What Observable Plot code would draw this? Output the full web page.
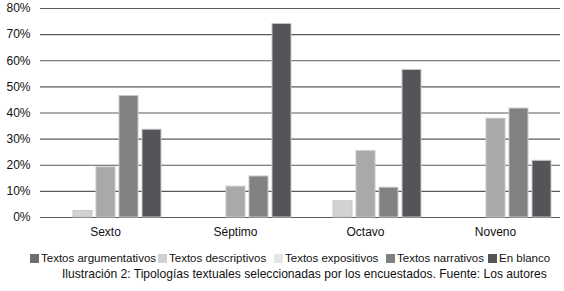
<!DOCTYPE html>
<html><head><meta charset="utf-8">
<script src="https://cdn.jsdelivr.net/npm/d3@7"></script>
<script src="https://cdn.jsdelivr.net/npm/@observablehq/plot@0.6"></script>
<style>
body{margin:0;background:#fff;font-family:"Liberation Sans",Arial,sans-serif;}
#legend{position:absolute;left:0;top:250px;width:564px;height:16px;font-size:11.5px;color:#111;}
#legend .it{position:absolute;top:0;line-height:16px;white-space:nowrap;}
#legend .sw{display:inline-block;width:9px;height:9px;vertical-align:-1px;margin-right:2px;}
#caption{position:absolute;left:62px;top:266px;font-size:12.1px;color:#111;white-space:nowrap;line-height:16px;}
</style></head>
<body>
<div id="chart"></div>
<div id="legend"></div>
<div id="caption"></div>
<script>
const grades = ["Sexto", "Séptimo", "Octavo", "Noveno"];
const series = ["Textos argumentativos", "Textos descriptivos", "Textos expositivos", "Textos narrativos", "En blanco"];
const argumentativos = [0, 0, 0, 0];
const descriptivos = [2.5, 0, 6.2, 0];
const expositivos = [19.2, 11.8, 25.4, 37.8];
const narrativos = [46.5, 15.7, 11.4, 41.7];
const enBlanco = [33.6, 74.1, 56.5, 21.7];
const barColors = ["#6e6e6e", "#d2d2d2", "#a9a9a9", "#818181", "#555459"];
const legendColors = ["#6e6e6e", "#d0d0d0", "#e6e6e6", "#808080", "#555555"];
const legendX = [30, 158, 274, 386, 488];
const yTicks = [0, 10, 20, 30, 40, 50, 60, 70, 80];
const caption = "Ilustración 2: Tipologías textuales seleccionadas por los encuestados. Fuente: Los autores";

const valuesBySeries = [argumentativos, descriptivos, expositivos, narrativos, enBlanco];
const data = [];
grades.forEach((g, i) => series.forEach((s, j) => data.push({grade: g, serie: s, value: valuesBySeries[j][i]})));

const chart = Plot.plot({
  width: 564, height: 245,
  marginLeft: 38, marginRight: 3, marginTop: 8, marginBottom: 28,
  style: {fontFamily: "'Liberation Sans', Arial, sans-serif", fontSize: "12px", color: "#111"},
  fx: {domain: grades, padding: 0, label: null, axis: null},
  x: {domain: series, paddingInner: 0.19, paddingOuter: 0.32, axis: null},
  y: {domain: [0, 80], ticks: yTicks, label: null, axis: null},
  color: {domain: series, range: barColors},
  marks: [
    Plot.ruleY(yTicks, {stroke: "#5a5a5a", strokeWidth: 1.2}),
    Plot.barY(data.filter(d => d.value > 0), {fx: "grade", x: "serie", y: "value", fill: "serie", stroke: "#c8c8c8", strokeWidth: 1}),
    Plot.axisY({ticks: yTicks, tickFormat: d => d + "%", tickSize: 0, tickPadding: 10, fontSize: 12}),
    Plot.axisFx({anchor: "bottom", tickSize: 0, tickPadding: 10, fontSize: 12, label: null})
  ]
});
document.getElementById("chart").appendChild(chart);

const lg = document.getElementById("legend");
series.forEach((s, i) => {
  const it = document.createElement("span");
  it.className = "it";
  it.style.left = legendX[i] + "px";
  it.innerHTML = `<span class="sw" style="background:${legendColors[i]}"></span>${s}`;
  lg.appendChild(it);
});
document.getElementById("caption").textContent = caption;
</script>
</body></html>
